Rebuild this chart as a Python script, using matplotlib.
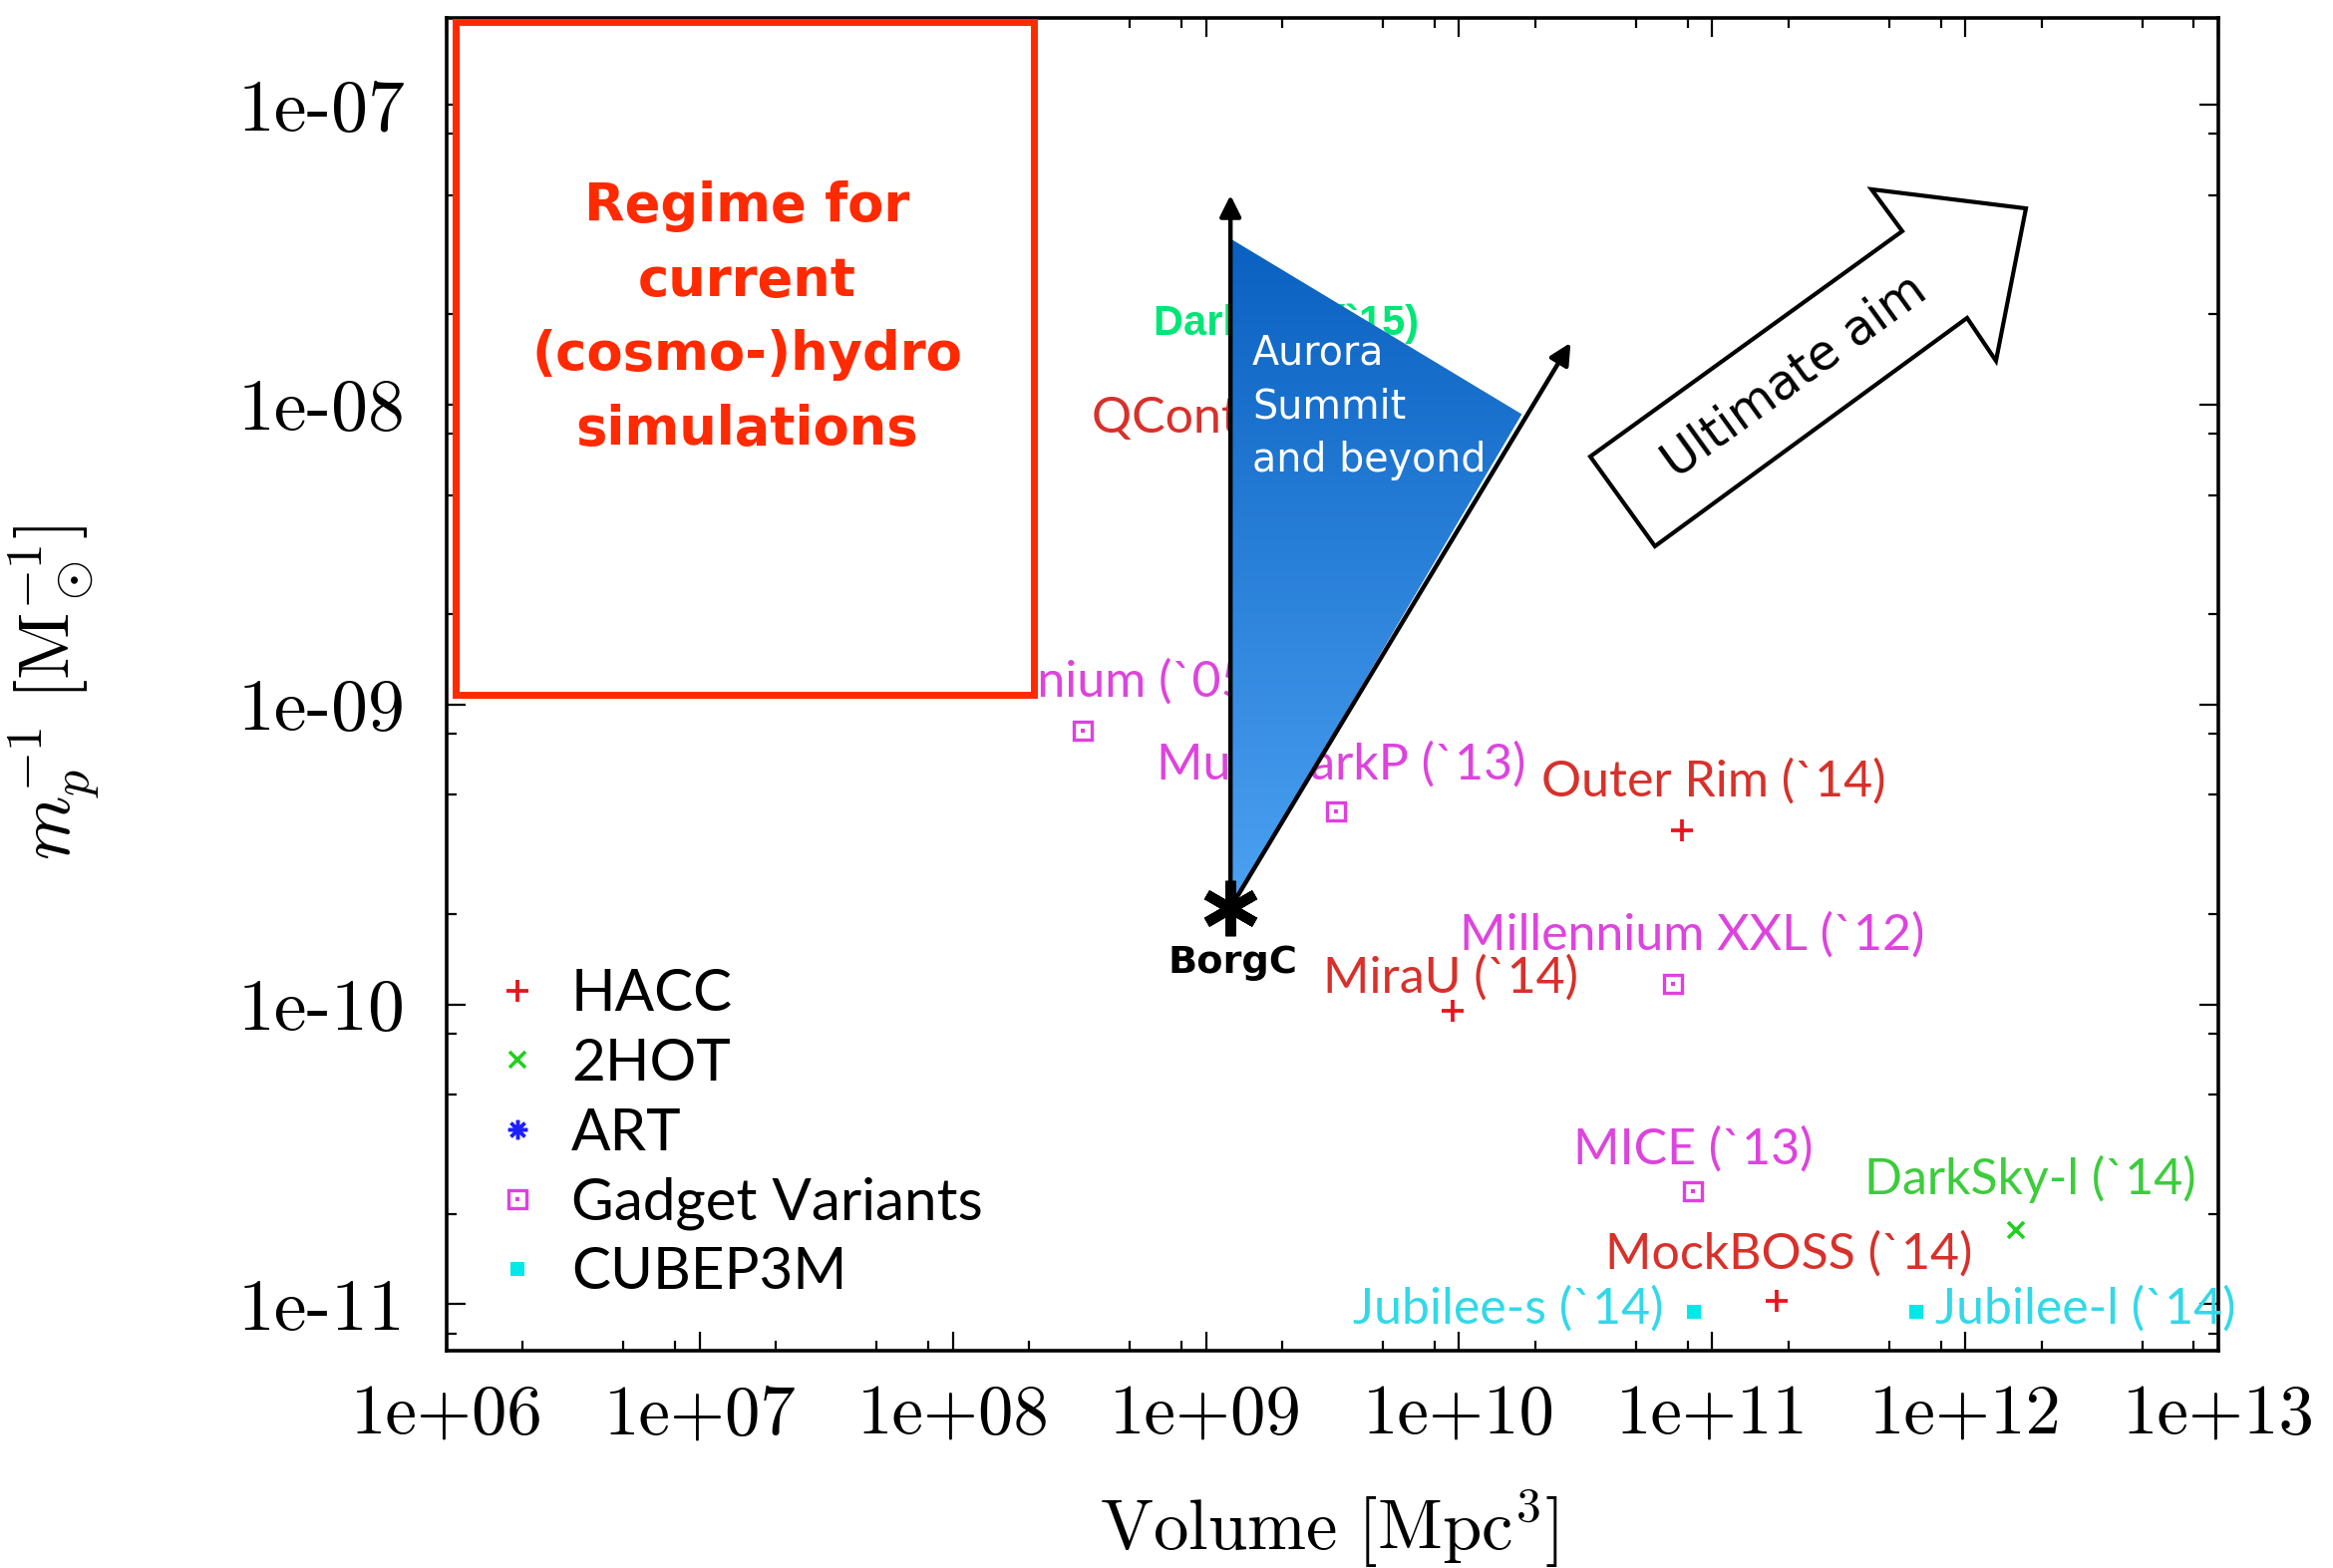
import numpy as np
import matplotlib
matplotlib.use('Agg')
import matplotlib.pyplot as plt
from matplotlib.patches import Polygon, Rectangle
from matplotlib.colors import LinearSegmentedColormap
from matplotlib.ticker import LogLocator, NullFormatter

plt.rcParams['mathtext.fontset'] = 'cm'
plt.rcParams['axes.unicode_minus'] = False

# ---------------- data ----------------
x_tick_values = [1e6, 1e7, 1e8, 1e9, 1e10, 1e11, 1e12, 1e13]
x_tick_labels = ['1e+06', '1e+07', '1e+08', '1e+09', '1e+10', '1e+11', '1e+12', '1e+13']
y_tick_values = [1e-11, 1e-10, 1e-9, 1e-8, 1e-7]
y_tick_labels = ['1e-11', '1e-10', '1e-09', '1e-08', '1e-07']

hacc_names = ['Outer Rim (`14)', 'MiraU (`14)', 'MockBOSS (`14)', 'QContinuum (`14)']
hacc_volume = [7.6e10, 9.4e9, 1.8e11, 2.2e9]
hacc_inv_mass = [3.8e-10, 9.5e-11, 1.03e-11, 6.8e-9]

twohot_names = ['DarkSky-l (`14)']
twohot_volume = [1.59e12]
twohot_inv_mass = [1.77e-11]

art_volume = []
art_inv_mass = []

gadget_names = ['Millennium (`05)', 'MultiDarkP (`13)', 'Millennium XXL (`12)', 'MICE (`13)']
gadget_volume = [3.25e8, 3.25e9, 7.0e10, 8.4e10]
gadget_inv_mass = [8.2e-10, 4.4e-10, 1.17e-10, 2.38e-11]

cubep3m_names = ['Jubilee-s (`14)', 'Jubilee-l (`14)']
cubep3m_volume = [8.5e10, 6.4e11]
cubep3m_inv_mass = [9.4e-12, 9.4e-12]

borgc_volume = 1.25e9
borgc_inv_mass = 2.1e-10
aurora_top = (1.25e9, 3.58e-8)
aurora_right = (1.77e10, 9.3e-9)
arrow_up_tip = (1.25e9, 5.0e-8)
arrow_diag_tip = (2.76e10, 1.61e-8)
darksky15_pos = (6.2e8, 1.87e-8)

# label offsets (points) and alignment
hacc_offsets = [(23, 35, 'center'), (-1, 24, 'center'), (9, 33, 'center'), (0, 27, 'center')]
twohot_offsets = [(10, 37, 'center')]
gadget_offsets = [(0, 35, 'center'), (4, 34, 'center'), (14, 35, 'center'), (0, 30, 'center')]
cubep3m_offsets = [(-22, 2, 'right'), (14, 2, 'left')]

# colours
hacc_c, hacc_tc = '#e8141c', '#d8302a'
twohot_c, twohot_tc = '#20d020', '#3ccc3c'
art_c = '#1f1fff'
gadget_c, gadget_tc = '#e040e0', '#dd44dd'
cube_c, cube_tc = '#00e8e8', '#33d8e8'
red_box = '#ff2a00'

fig = plt.figure(figsize=(23.4, 15.73), dpi=100)
ax = fig.add_axes([0.19145, 0.13859, 0.7594, 0.84997])
ax.set_xscale('log')
ax.set_yscale('log')

# ---------------- series ----------------
h1, = ax.plot(hacc_volume, hacc_inv_mass, ls='none', marker='+', ms=16, mew=2.7, color=hacc_c, zorder=3)
h2, = ax.plot(twohot_volume, twohot_inv_mass, ls='none', marker='x', ms=12, mew=2.6, color=twohot_c, zorder=3)
h3, = ax.plot(art_volume, art_inv_mass, ls='none', marker=(8, 2, 0), ms=14, mew=2.5, color=art_c, zorder=3)
h4a, = ax.plot(gadget_volume, gadget_inv_mass, ls='none', marker='s', ms=13, mew=2.4, mfc='none', color=gadget_c, zorder=3)
h4b, = ax.plot(gadget_volume, gadget_inv_mass, ls='none', marker='s', ms=2.5, mew=0, color=gadget_c, zorder=3)
h5, = ax.plot(cubep3m_volume, cubep3m_inv_mass, ls='none', marker='s', ms=10.5, mew=0, color=cube_c, zorder=3)

def label_points(names, vols, masses, offsets, color):
    for n, v, m, (dx, dy, ha) in zip(names, vols, masses, offsets):
        ax.annotate(n, (v, m), xytext=(dx, dy), textcoords='offset points', ha=ha, va='center',
                    color=color, fontsize=36, fontfamily='Lato', zorder=3)

label_points(hacc_names, hacc_volume, hacc_inv_mass, hacc_offsets, hacc_tc)
label_points(twohot_names, twohot_volume, twohot_inv_mass, twohot_offsets, twohot_tc)
label_points(gadget_names, gadget_volume, gadget_inv_mass, gadget_offsets, gadget_tc)
label_points(cubep3m_names, cubep3m_volume, cubep3m_inv_mass, cubep3m_offsets, cube_tc)

ax.text(darksky15_pos[0], darksky15_pos[1], 'DarkSky (`15)', fontsize=30, fontweight='bold',
        fontfamily='Liberation Sans', color='#00e676', va='center', ha='left', zorder=3)

# ---------------- legend ----------------
ax.legend([h1, h2, h3, (h4a, h4b), h5], ['HACC', '2HOT', 'ART', 'Gadget Variants', 'CUBEP3M'],
          loc='upper left', bbox_to_anchor=(0.0276, 0.287), frameon=False,
          prop={'family': 'Lato', 'size': 42}, handlelength=0.75, handletextpad=0.55,
          labelspacing=0.285, borderpad=0, borderaxespad=0, numpoints=1)

# ---------------- red box ----------------
ax.add_patch(Rectangle((0.005, 0.492), 0.3265, 0.505, transform=ax.transAxes, fc='white',
                       ec=red_box, lw=5, zorder=4))
ax.text(0.1694, 0.775, 'Regime for\ncurrent\n(cosmo-)hydro\nsimulations', transform=ax.transAxes,
        ha='center', va='center', color=red_box, fontsize=38, fontweight='bold',
        fontfamily='DejaVu Sans', linespacing=1.55, zorder=5)

# ---------------- Aurora triangle ----------------
tri = Polygon([aurora_top, aurora_right, (borgc_volume, borgc_inv_mass)], closed=True,
              transform=ax.transData, fc='none', ec='none')
ax.add_patch(tri)
cmap = LinearSegmentedColormap.from_list('aur', ['#4ca2f2', '#0960c0'])
grad = np.linspace(0, 1, 256).reshape(-1, 1)
im = ax.imshow(grad, extent=[0.4, 0.65, 0.33, 0.84], transform=ax.transAxes, origin='lower',
               aspect='auto', cmap=cmap, zorder=5, interpolation='bilinear')
im.set_clip_path(tri)

ax.annotate('', xy=arrow_up_tip, xytext=(borgc_volume, borgc_inv_mass),
            arrowprops=dict(arrowstyle='-|>', color='black', lw=3.2, mutation_scale=32,
                            shrinkA=0, shrinkB=0), zorder=6)
ax.annotate('', xy=arrow_diag_tip, xytext=(borgc_volume, borgc_inv_mass),
            arrowprops=dict(arrowstyle='-|>', color='black', lw=3.2, mutation_scale=32,
                            shrinkA=0, shrinkB=0), zorder=6)
ax.plot([borgc_volume], [borgc_inv_mass], ls='none', marker=(6, 2, 0), ms=40, mew=7.5,
        color='black', zorder=8)
ax.annotate('BorgC', (borgc_volume, borgc_inv_mass), xytext=(2, -40), textcoords='offset points',
            ha='center', va='center', fontsize=27.5, fontweight='bold', color='black', zorder=8)
ax.text(0.4547, 0.7635, 'Aurora\nSummit\nand beyond', transform=ax.transAxes, color='white',
        fontsize=28.5, va='top', ha='left', linespacing=1.45, zorder=7)

# ---------------- Ultimate aim arrow ----------------
ult = [(0.6455, 0.6709), (0.8216, 0.8400), (0.8042, 0.8714), (0.8914, 0.8571),
       (0.8745, 0.7427), (0.8582, 0.7749), (0.6820, 0.6036)]
ax.add_patch(Polygon(ult, closed=True, transform=ax.transAxes, fc='white', ec='black', lw=3,
                     zorder=6, joinstyle='miter'))
ax.text(0.7608, 0.7315, 'Ultimate aim', transform=ax.transAxes, rotation=35.8,
        rotation_mode='anchor', ha='center', va='center', fontsize=35, color='black', zorder=7)

# ---------------- axes ----------------
ax.set_xlim(1e6, 1e13)
ax.set_ylim(7.0e-12, 1.95e-7)
ax.set_xticks(x_tick_values, labels=x_tick_labels, fontfamily='cmr10', fontsize=51)
ax.set_yticks(y_tick_values, labels=y_tick_labels, fontfamily='cmr10', fontsize=53)
ax.xaxis.set_minor_locator(LogLocator(base=10, subs=(2, 5, 8), numticks=50))
ax.yaxis.set_minor_locator(LogLocator(base=10, subs=(2, 5, 8), numticks=50))
ax.xaxis.set_minor_formatter(NullFormatter())
ax.yaxis.set_minor_formatter(NullFormatter())
ax.tick_params(which='both', direction='in', top=True, right=True, width=1.6)
ax.tick_params(which='major', length=14)
ax.tick_params(which='minor', length=7)
ax.tick_params(axis='x', which='major', pad=24)
ax.tick_params(axis='y', which='major', pad=30)
for s in ax.spines.values():
    s.set_linewidth(2.6)

ax.set_xlabel(r'$\mathrm{Volume}\ [\mathrm{Mpc}^3]$', fontsize=51)
ax.xaxis.set_label_coords(0.498, -0.103)
ax.set_ylabel(r'$m_p^{-1}\ [\mathrm{M}_\odot^{-1}]$', fontsize=53)
ax.yaxis.set_label_coords(-0.195, 0.494)

fig.savefig('out.png', dpi=100)
